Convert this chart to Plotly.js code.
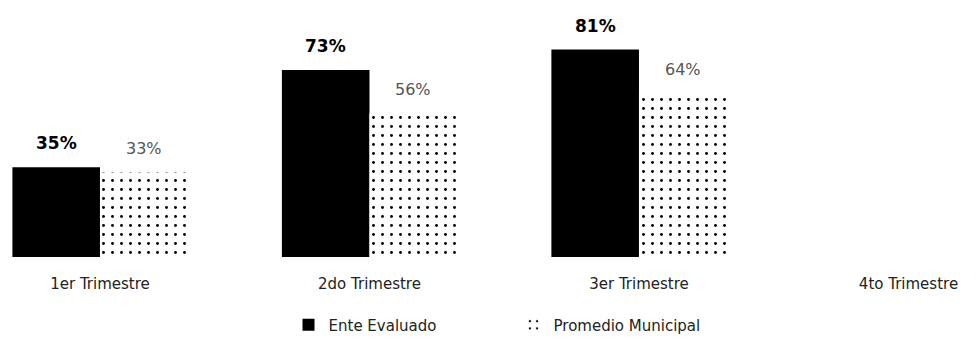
<!DOCTYPE html>
<html>
<head>
<meta charset="utf-8">
<script src="https://cdn.plot.ly/plotly-3.0.1.min.js"></script>
<style>html,body{margin:0;padding:0;background:#fff;}#chart{width:978px;height:351px;}</style>
</head>
<body>
<div id="chart"></div>
<script>
const categories = ["1er Trimestre", "2do Trimestre", "3er Trimestre", "4to Trimestre"];
const seriesNames = ["Ente Evaluado", "Promedio Municipal"];
const enteValues = [35, 73, 81, null];
const promedioValues = [33, 56, 64, null];

const BARGAP = 0.35;
const half = (1 - BARGAP) / 4;

const traces = [
  {
    type: "bar", name: seriesNames[0], x: categories, y: enteValues,
    marker: {color: "#000000", line: {width: 0}},
    hoverinfo: "none"
  },
  {
    type: "bar", name: seriesNames[1], x: categories, y: promedioValues,
    marker: {color: "#ffffff", line: {width: 0},
      pattern: {shape: ".", fgcolor: "#000000", bgcolor: "#ffffff", size: 9, solidity: 0.08}},
    hoverinfo: "none"
  }
];

const annotations = [];
enteValues.forEach((v, i) => {
  if (v === null) return;
  annotations.push({x: i - half, y: v, xref: "x", yref: "y", text: v + "%", showarrow: false,
    yanchor: "middle", yshift: 24, font: {family: "DejaVu Sans", size: 17, color: "#000", weight: "bold"}});
});
promedioValues.forEach((v, i) => {
  if (v === null) return;
  annotations.push({x: i + half, y: v, xref: "x", yref: "y", text: v + "%", showarrow: false,
    yanchor: "middle", yshift: 24, font: {family: "DejaVu Sans", size: 16, color: "#555"}});
});

const layout = {
  width: 978, height: 351,
  margin: {l: 0, r: 0, t: 5, b: 94},
  paper_bgcolor: "#fff", plot_bgcolor: "#fff",
  barmode: "group", bargap: BARGAP, bargroupgap: 0,
  showlegend: true,
  legend: {orientation: "h", x: 0.295, xanchor: "left", y: -0.27, yanchor: "middle",
    entrywidth: 180, entrywidthmode: "pixels",
    font: {family: "DejaVu Sans", size: 15, color: "#222"}, itemwidth: 30, traceorder: "normal"},
  xaxis: {type: "category", range: [-0.371, 3.258], automargin: false, showgrid: false, zeroline: false,
    showline: false, ticks: "", ticklabelstandoff: 16,
    tickfont: {family: "DejaVu Sans", size: 15, color: "#222"}, fixedrange: true},
  yaxis: {range: [0, 98.4], visible: false, showgrid: false, zeroline: false, automargin: false, fixedrange: true},
  annotations: annotations,
  font: {family: "DejaVu Sans"}
};

Plotly.newPlot("chart", traces, layout, {displayModeBar: false, staticPlot: true});
</script>
</body>
</html>
